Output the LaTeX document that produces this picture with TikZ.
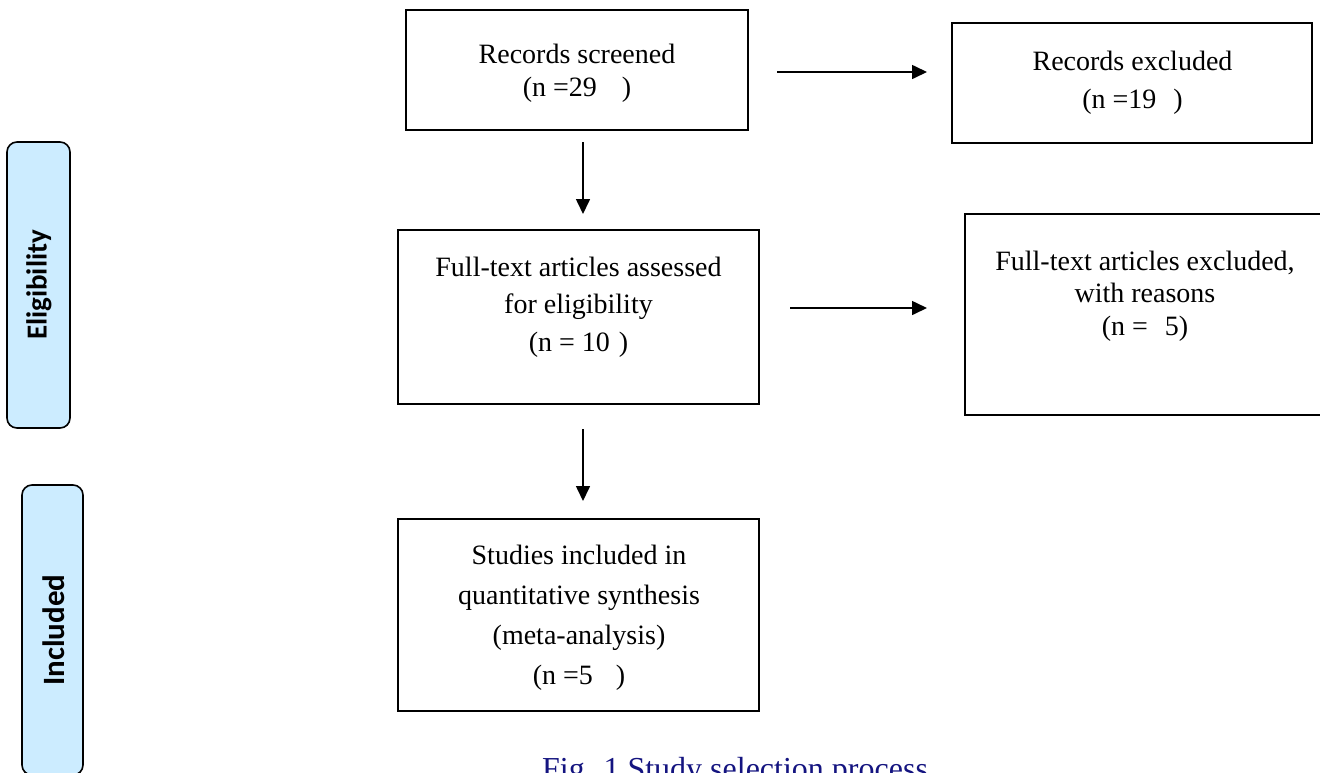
\documentclass[tikz,border=0pt]{standalone}
\usepackage{fontspec}
\setmainfont{Liberation Serif}
\newfontfamily\sidefont{Carlito}
\usetikzlibrary{arrows.meta}
\definecolor{sideblue}{RGB}{204,236,255}
\definecolor{capnavy}{RGB}{20,20,128}
\tikzset{
  box/.style={draw=black, line width=2pt, inner sep=0pt},
  sidebox/.style={draw=black, line width=1.6pt, fill=sideblue, rounded corners=10pt, inner sep=0pt},
  txt/.style={align=center, inner sep=0pt, font=\fontsize{28}{33}\selectfont},
  sidetxt/.style={rotate=90, inner sep=0pt},
  flow/.style={line width=1.6pt, -{Triangle[length=15pt,width=14pt]}}
}
\begin{document}
\begin{tikzpicture}[x=1pt,y=-1pt]
\useasboundingbox (0,0) rectangle (1320,772);
\clip (0,0) rectangle (1320,772);
\fill[white] (0,0) rectangle (1320,772);

% side labels
\node[sidebox, minimum width=63pt, minimum height=286pt] (elig) at (38.5,285) {};
\node[sidetxt] (eligt) at (39,285) {\sidefont\bfseries\fontsize{29}{33}\selectfont Eligibility};
\node[sidebox, minimum width=61pt, minimum height=290pt] (incl) at (52.5,630) {};
\node[sidetxt] (inclt) at (54,630) {\sidefont\bfseries\fontsize{31}{35}\selectfont Included};

% boxes
\node[box, minimum width=342pt, minimum height=120pt] (rs) at (577,70) {};
\node[txt] (rst) at (577,73) {Records screened\\(n =29\hspace{25pt})};

\node[box, minimum width=360pt, minimum height=120pt] (re) at (1132,83) {};
\node[txt, font=\fontsize{28}{38}\selectfont] (ret) at (1132.5,83) {Records excluded\\(n =19\hspace{17pt})};

\node[box, minimum width=361pt, minimum height=174pt] (ft) at (578.5,317) {};
\node[txt, font=\fontsize{28}{37.5}\selectfont] (ftt) at (578.5,307) {Full-text articles assessed\\for eligibility\\(n = 10\hspace{9pt})};

\node[box, minimum width=360pt, minimum height=201pt] (fe) at (1145,314.5) {};
\node[txt, font=\fontsize{28}{32.5}\selectfont] (fet) at (1145,296) {Full-text articles excluded,\\with reasons\\(n =\hspace{17pt}5)};

\node[box, minimum width=361pt, minimum height=192pt] (si) at (578.5,615) {};
\node[txt, font=\fontsize{28}{40}\selectfont] (sit) at (579,618) {Studies included in\\quantitative synthesis\\(meta-analysis)\\(n =5\hspace{23pt})};

% arrow end points
\coordinate (a1s) at (777,72);  \coordinate (a1e) at (927,72);
\coordinate (a2s) at (790,308); \coordinate (a2e) at (927,308);
\coordinate (d1s) at (583,142); \coordinate (d1e) at (583,214);
\coordinate (d2s) at (583,429); \coordinate (d2e) at (583,501);
\draw[flow] (a1s) -- (a1e);
\draw[flow] (a2s) -- (a2e);
\draw[flow] (d1s) -- (d1e);
\draw[flow] (d2s) -- (d2e);

% caption (cut by the lower edge, as in the reference)
\node[anchor=base west, inner sep=0pt, text=capnavy, font=\fontsize{32}{36}\selectfont] (cap) at (542,779) {Fig. 1 Study selection process};
\end{tikzpicture}
\end{document}
